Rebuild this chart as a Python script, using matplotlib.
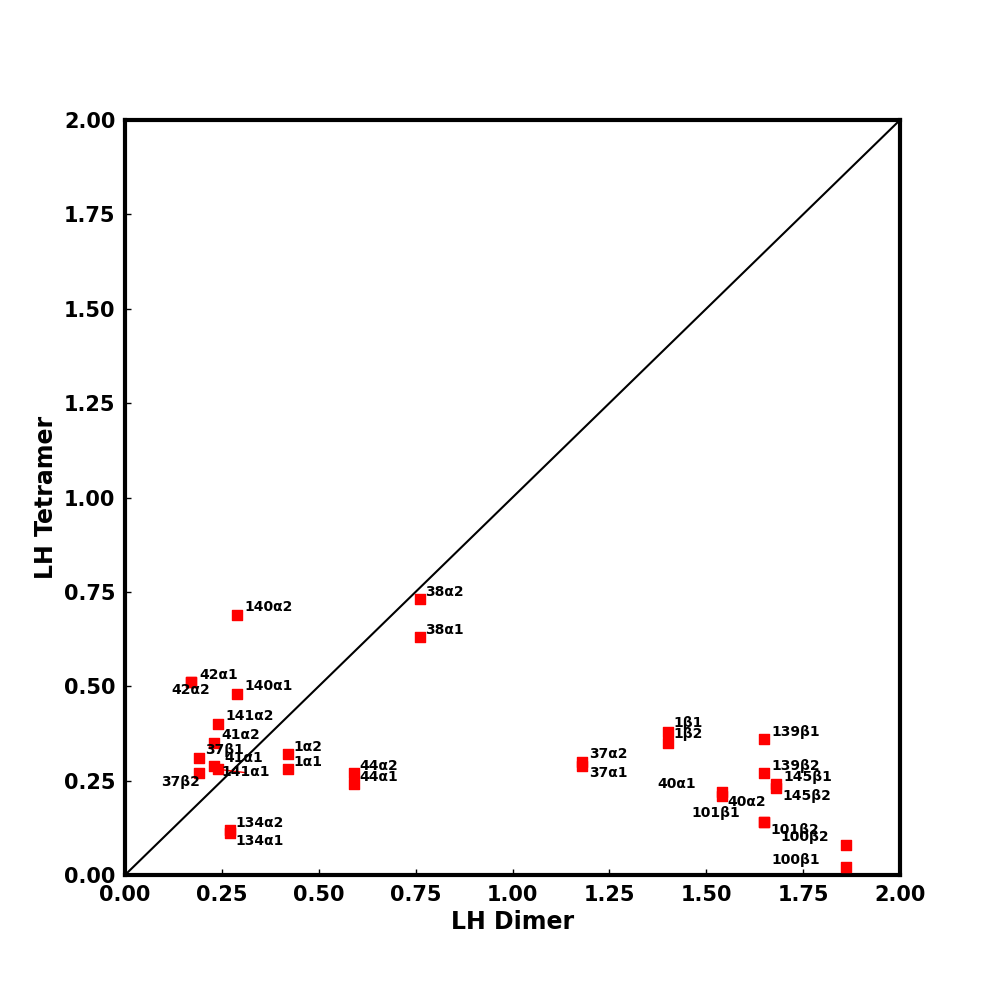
import numpy as np
import matplotlib.pyplot as plt

# residue labels and their LH values (dimer vs tetramer)
labels = ['140α2', '140α1', '42α1', '42α2', '141α2', '41α2', '37β1', '37β2',
          '41α1', '141α1', '1α2', '1α1', '44α2', '44α1', '134α2', '134α1',
          '38α2', '38α1', '37α2', '37α1', '1β1', '1β2', '139β1', '139β2',
          '145β1', '145β2', '40α1', '40α2', '101β1', '101β2', '100β2', '100β1']
dimer = [0.29, 0.29, 0.17, 0.17, 0.24, 0.23, 0.19, 0.19,
         0.23, 0.24, 0.42, 0.42, 0.59, 0.59, 0.27, 0.27,
         0.76, 0.76, 1.18, 1.18, 1.40, 1.40, 1.65, 1.65,
         1.68, 1.68, 1.54, 1.54, 1.65, 1.65, 1.86, 1.86]
tetramer = [0.69, 0.48, 0.51, 0.51, 0.40, 0.35, 0.31, 0.27,
            0.29, 0.28, 0.32, 0.28, 0.27, 0.24, 0.12, 0.11,
            0.73, 0.63, 0.30, 0.29, 0.38, 0.35, 0.36, 0.27,
            0.24, 0.23, 0.22, 0.21, 0.14, 0.14, 0.08, 0.02]

# label offsets in pixels (as placed in the original)
offsets = [(7, 8), (7, 8), (9, 7), (-19, -8), (7, 8), (7, 8), (6, 8), (-38, -9),
           (10, 8), (3, -3), (6, 7), (6, 7), (6, 7), (6, 7), (6, 7), (6, -8),
           (6, 7), (6, 7), (7, 8), (7, -7), (6, 9), (6, 9), (7, 7), (7, 7),
           (7, 7), (6, -8), (-64, 8), (6, -6), (-73, 9), (6, -8), (-65, 8), (-74, 7)]

fig = plt.figure(figsize=(10, 10), dpi=100)
ax = fig.add_axes([0.125, 0.125, 0.775, 0.755])

ax.plot([0, 2], [0, 2], color='black', lw=1.5, zorder=1)
ax.scatter(dimer, tetramer, marker='s', s=55, color='red', zorder=3)

for lab, x, y, off in zip(labels, dimer, tetramer, offsets):
    ax.annotate(lab, (x, y), xytext=off, textcoords='offset pixels',
                ha='left', va='center', fontsize=10, fontweight='bold', zorder=4)

# the one label that was dragged away with a leader line
ax.annotate('', (0.24, 0.28), xytext=(0.32, 0.27),
            arrowprops=dict(arrowstyle='-', color='red', lw=1), zorder=2)

ax.set_xlim(0, 2)
ax.set_ylim(0, 2)
ticks = np.arange(0, 2.01, 0.25)
ax.set_xticks(ticks)
ax.set_yticks(ticks)
ax.set_xticklabels(['%.2f' % t for t in ticks], fontsize=15, fontweight='bold')
ax.set_yticklabels(['%.2f' % t for t in ticks], fontsize=15, fontweight='bold')
ax.tick_params(direction='in', length=4, width=1, pad=7)

for sp in ax.spines.values():
    sp.set_linewidth(3)

ax.set_xlabel('LH Dimer', fontsize=17, fontweight='bold')
ax.set_ylabel('LH Tetramer', fontsize=17, fontweight='bold')

plt.savefig('out.png')
